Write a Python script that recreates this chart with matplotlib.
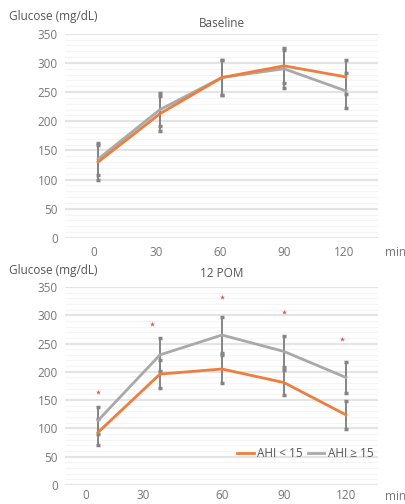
import numpy as np
import matplotlib
matplotlib.use('Agg')
import matplotlib.pyplot as plt

plt.rcParams['font.family'] = ['Open Sans', 'DejaVu Sans']

# sampling times (min)
times = [0, 30, 60, 90, 120]

# Baseline
base_low = [130, 213, 275, 295, 276]       # AHI < 15
base_low_sd = [30, 30, 30, 30, 29]
base_high = [135, 220, 275, 290, 252]      # AHI >= 15
base_high_sd = [27, 28, 30, 33, 30]

# 12 POM
pom_low = [93, 196, 205, 181, 124]
pom_low_sd = [23, 24, 25, 22, 25]
pom_high = [114, 230, 265, 236, 190]
pom_high_sd = [23, 29, 31, 28, 28]
# asterisk positions (x offset, y) marking significance
star_x = [0, 26, 60, 90, 118]
star_y = [165, 285, 333, 306, 258]

ORANGE = '#ef7d3e'
GRAY = '#a9a9a9'
ERR = '#858585'
TXT = '#555555'
TICK = '#777777'


def style_axes(ax, xticks, xpad, min_y):
    ax.set_xlim(-16, 135.5)
    ax.set_ylim(0, 350)
    for s in ax.spines.values():
        s.set_visible(False)
    ax.set_yticks(range(0, 351, 50))
    ax.set_yticks(range(0, 351, 10), minor=True)
    ax.grid(True, axis='y', which='major', color='#e4e4e4', lw=1.6, zorder=0)
    ax.grid(True, axis='y', which='minor', color='#f4f4f4', lw=0.8, zorder=0)
    ax.set_xticks(xticks)
    ax.set_xticklabels([str(t) for t in times])
    ax.tick_params(axis='both', which='both', length=0, labelsize=8.5, colors=TICK)
    ax.tick_params(axis='x', pad=xpad)
    ax.tick_params(axis='y', pad=5)
    ax.text(1.055, min_y, 'min', transform=ax.transAxes, fontsize=8.5,
            color=TICK, ha='center', va='center')
    ax.text(-0.178, 1.085, 'Glucose (mg/dL)', transform=ax.transAxes,
            fontsize=8.5, color=TXT, ha='left', va='center')


def draw(ax, low, low_sd, high, high_sd):
    ax.errorbar(times, high, yerr=high_sd, fmt='none', ecolor=ERR, elinewidth=1.4,
                capsize=1.5, capthick=2.5, zorder=3)
    ax.errorbar(times, low, yerr=low_sd, fmt='none', ecolor=ERR, elinewidth=1.4,
                capsize=1.5, capthick=2.5, zorder=3)
    ax.plot(times, high, color=GRAY, lw=2, zorder=4, label='AHI \u2265 15')
    ax.plot(times, low, color=ORANGE, lw=2, zorder=5, label='AHI < 15')


fig = plt.figure(figsize=(4.06, 5.04), dpi=100)

ax1 = fig.add_axes([0.160, 0.528, 0.771, 0.405])
style_axes(ax1, [-2, 28, 59, 90, 119], 6, -0.074)
draw(ax1, base_low, base_low_sd, base_high, base_high_sd)
ax1.set_title('Baseline', fontsize=8.5, color=TXT, pad=5)

ax2 = fig.add_axes([0.160, 0.0377, 0.771, 0.393])
style_axes(ax2, [-6, 22, 60, 90, 120], 3, -0.06)
draw(ax2, pom_low, pom_low_sd, pom_high, pom_high_sd)
ax2.set_title('12 POM', fontsize=8.5, color=TXT, pad=7)
ax2.scatter(star_x, star_y, marker='*', s=14, color='#e8534f', lw=0, zorder=6)

h, l = ax2.get_legend_handles_labels()
ax2.legend([h[1], h[0]], [l[1], l[0]], ncol=2, loc='center right',
           bbox_to_anchor=(1.0, 0.16), frameon=False, fontsize=8.5,
           handlelength=1.4, handletextpad=0.3, columnspacing=0.4,
           labelcolor=TXT, borderaxespad=0)

fig.savefig('out.png', dpi=100)
